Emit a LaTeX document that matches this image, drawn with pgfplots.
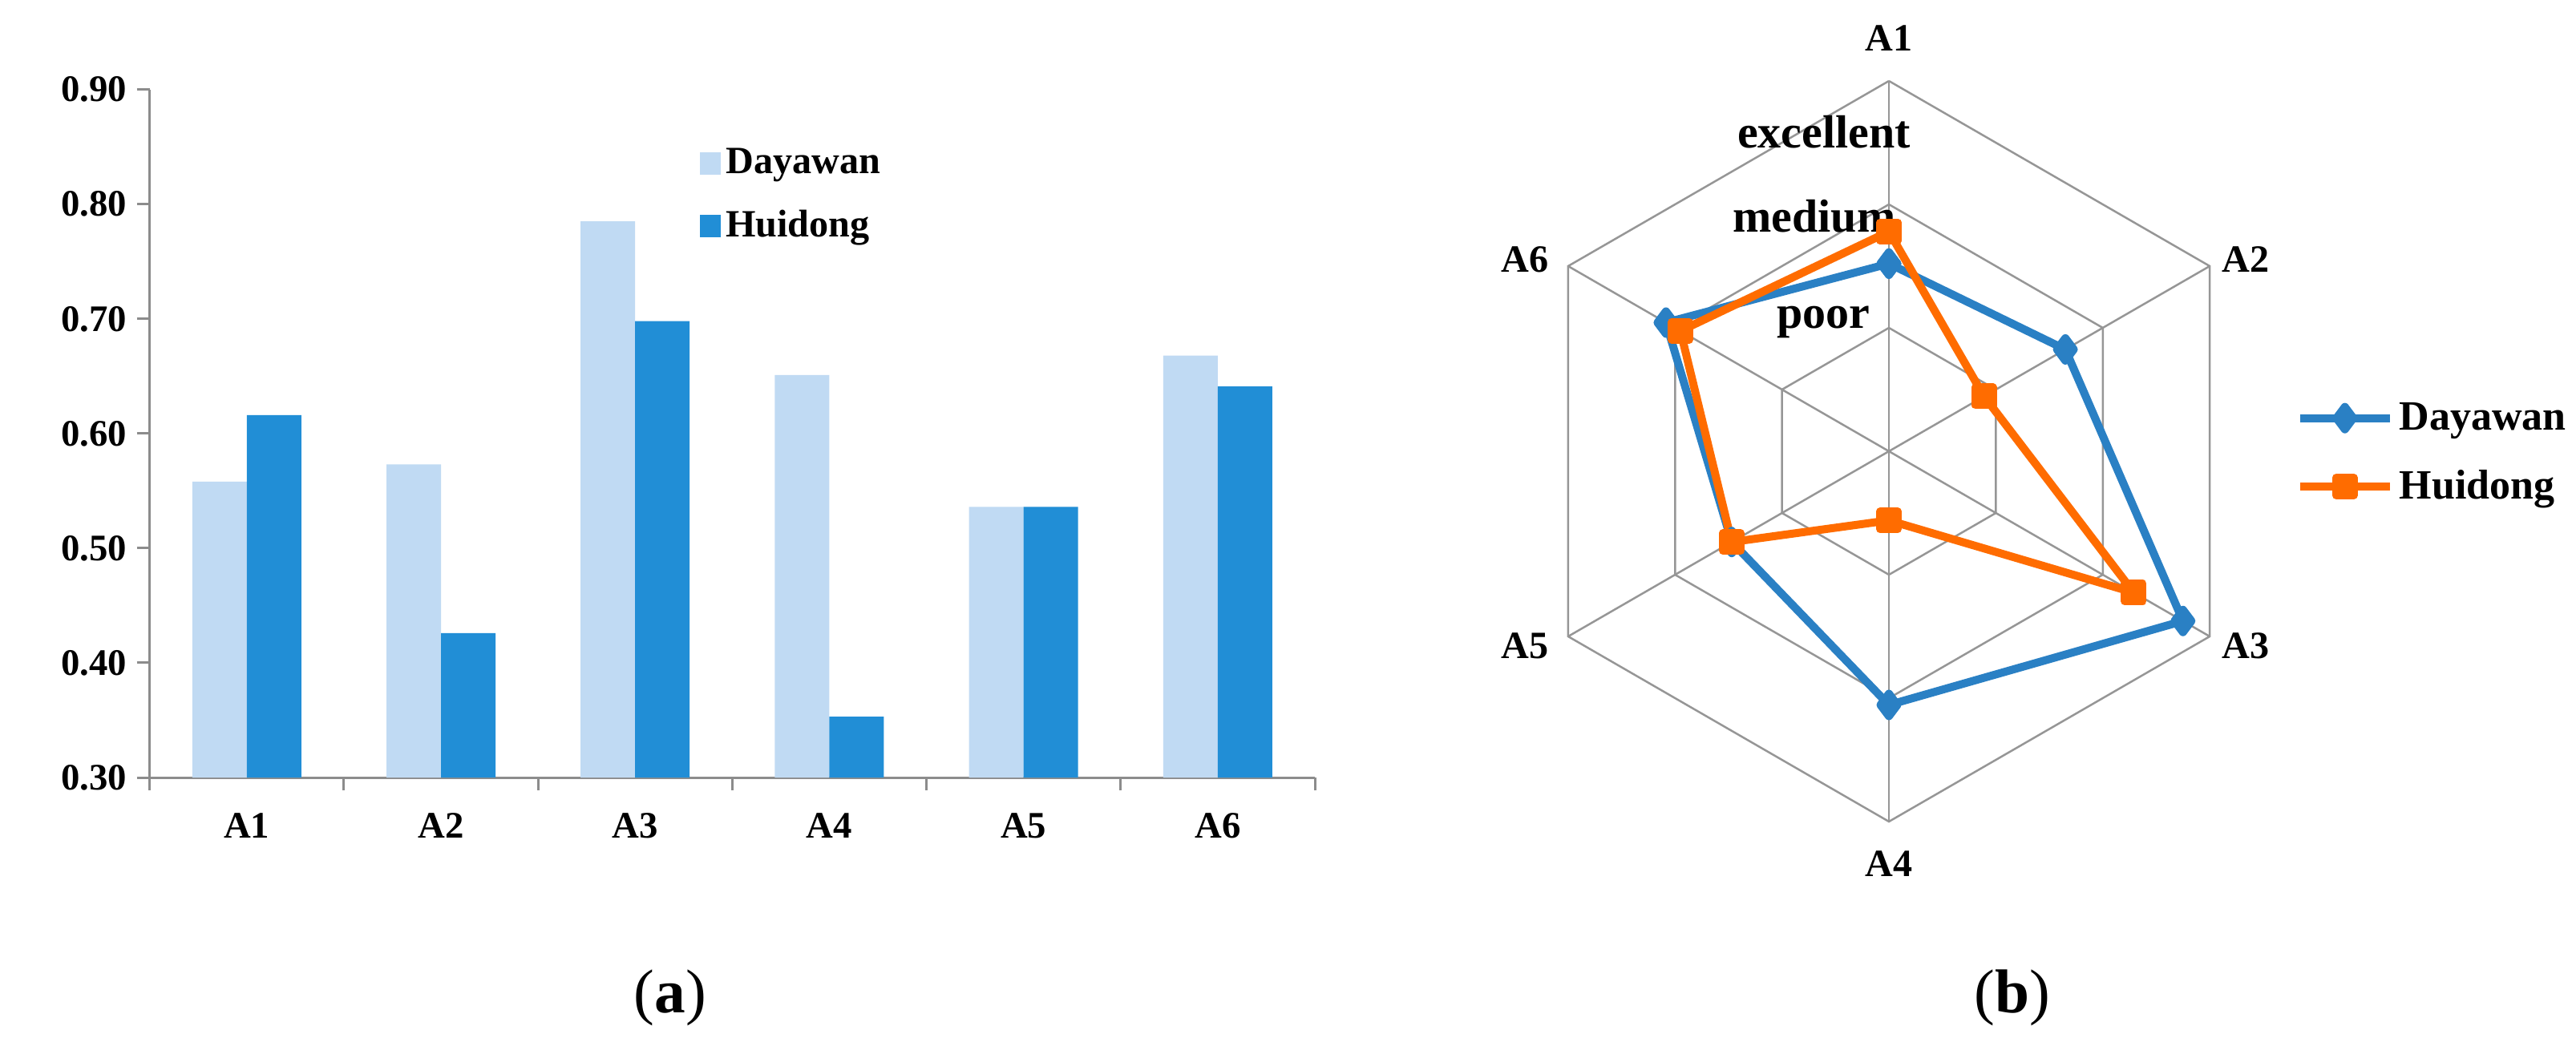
\documentclass[border=0pt]{standalone}
\usepackage{fontspec}
\setmainfont{Liberation Serif}
\usepackage{pgfplots}
\pgfplotsset{compat=1.18}
\usepgfplotslibrary{polar}
\definecolor{lightbar}{RGB}{192,218,243}
\definecolor{darkbar}{RGB}{33,142,214}
\definecolor{dblue}{RGB}{42,128,196}
\definecolor{horange}{RGB}{255,108,0}
\definecolor{axgray}{RGB}{140,140,140}
\definecolor{gridgray}{RGB}{150,150,150}
\begin{document}
\begin{tikzpicture}
\useasboundingbox (0,0) rectangle (321.3mm,-130.5mm);
% ---------------- (a) bar chart ----------------
\begin{axis}[
  at={(18.67mm,-97.0mm)}, anchor=south west,
  width=145.33mm, height=85.83mm, scale only axis,
  xmin=-0.5, xmax=5.5, ymin=0.3, ymax=0.9,
  axis x line*=bottom, axis y line*=left,
  axis line style={axgray, line width=0.3mm, -},
  ybar=0pt, bar width=6.8mm,
  xtick={0,1,2,3,4,5}, xticklabels={A1,A2,A3,A4,A5,A6},
  major x tick style={draw=none},
  minor xtick={-0.5,0.5,1.5,2.5,3.5,4.5,5.5},
  ytick={0.3,0.4,0.5,0.6,0.7,0.8,0.9},
  tick align=outside,
  tick style={axgray, line width=0.3mm},
  major tick length=1.6mm, minor tick length=1.6mm,
  y tick label style={/pgf/number format/.cd, fixed, fixed zerofill, precision=2, assume math mode=true},
  x tick label style={yshift=-1.6mm},
  tick label style={font=\fontsize{13.3}{15}\selectfont\bfseries},
  legend style={at={(0.472,0.915)}, anchor=north west, draw=none, fill=none, inner sep=0pt,
    row sep=4.0mm, font=\fontsize{13.7}{16}\selectfont\bfseries, nodes={inner sep=0pt},
    cells={anchor=west}, /tikz/every odd column/.style={column sep=0.6mm}},
  legend image code/.code={\fill[#1] (0mm,-1.4mm) rectangle (2.6mm,1.4mm);},
]
\addplot[fill=lightbar, draw=none] coordinates {(0,0.558) (1,0.573) (2,0.785) (3,0.651) (4,0.536) (5,0.668)};
\addplot[fill=darkbar, draw=none] coordinates {(0,0.616) (1,0.426) (2,0.698) (3,0.353) (4,0.536) (5,0.641)};
\legend{Dayawan, Huidong}
\end{axis}
% ---------------- (b) radar chart ----------------
\begin{axis}[
  at={(235.6mm,-56.3mm)}, anchor=center,
  width=92.4mm, height=92.4mm, scale only axis,
  xmin=-3, xmax=3, ymin=-3, ymax=3,
  hide axis, clip=false,
  legend style={at={(1.0487,0.498)}, anchor=west, draw=none, fill=none, inner sep=0pt,
    row sep=4.5mm, font=\fontsize{14.8}{17}\selectfont\bfseries, nodes={inner sep=0pt},
    cells={anchor=west}, /tikz/every odd column/.style={column sep=0.7mm}},
  legend image code/.code={\draw[mark repeat=2,mark phase=2,#1] plot coordinates {(0mm,0mm) (5.6mm,0mm) (11.2mm,0mm)};},
]
\addplot[gridgray, line width=0.25mm, data cs=polar, forget plot] coordinates {(90,3) (30,3) (-30,3) (-90,3) (-150,3) (150,3) (90,3)};
\addplot[gridgray, line width=0.25mm, data cs=polar, forget plot] coordinates {(90,2) (30,2) (-30,2) (-90,2) (-150,2) (150,2) (90,2)};
\addplot[gridgray, line width=0.25mm, data cs=polar, forget plot] coordinates {(90,1) (30,1) (-30,1) (-90,1) (-150,1) (150,1) (90,1)};
\addplot[gridgray, line width=0.25mm, data cs=polar, forget plot] coordinates {(90,0) (90,3)};
\addplot[gridgray, line width=0.25mm, data cs=polar, forget plot] coordinates {(30,0) (30,3)};
\addplot[gridgray, line width=0.25mm, data cs=polar, forget plot] coordinates {(-30,0) (-30,3)};
\addplot[gridgray, line width=0.25mm, data cs=polar, forget plot] coordinates {(-90,0) (-90,3)};
\addplot[gridgray, line width=0.25mm, data cs=polar, forget plot] coordinates {(-150,0) (-150,3)};
\addplot[gridgray, line width=0.25mm, data cs=polar, forget plot] coordinates {(150,0) (150,3)};
\addplot[dblue, line width=1mm, line join=round, mark=diamond*, mark size=1.4mm, mark options={solid}, data cs=polar]
  coordinates {(90,1.52) (30,1.65) (-30,2.75) (-90,2.055) (-150,1.47) (150,2.085) (90,1.52)};
\addplot[horange, line width=1mm, line join=round, mark=square*, mark size=1.1mm, mark options={solid}, data cs=polar]
  coordinates {(90,1.78) (30,0.89) (-30,2.29) (-90,0.56) (-150,1.47) (150,1.95) (90,1.78)};
\legend{Dayawan, Huidong}
\begin{scope}[font=\fontsize{13.7}{16}\selectfont\bfseries]
\node at (axis cs:0,3.344) {A1};
\node at (axis cs:2.89,1.558) {A2};
\node at (axis cs:2.89,-1.578) {A3};
\node at (axis cs:0,-3.344) {A4};
\node at (axis cs:-2.948,-1.578) {A5};
\node at (axis cs:-2.948,1.552) {A6};
\end{scope}
\begin{scope}[font=\fontsize{16.5}{19}\selectfont\bfseries]
\node[anchor=base, inner sep=0pt] at (axis cs:-0.526,2.461) {excellent};
\node[anchor=base, inner sep=0pt] at (axis cs:-0.604,1.779) {medium};
\node[anchor=base, inner sep=0pt] at (axis cs:-0.532,0.994) {poor};
\end{scope}
\end{axis}
% captions
\node[font=\fontsize{22}{26}\selectfont] at (83.6mm,-124.5mm) {(\textbf{a})};
\node[font=\fontsize{22}{26}\selectfont] at (251.0mm,-124.5mm) {(\textbf{b})};
\end{tikzpicture}
\end{document}
